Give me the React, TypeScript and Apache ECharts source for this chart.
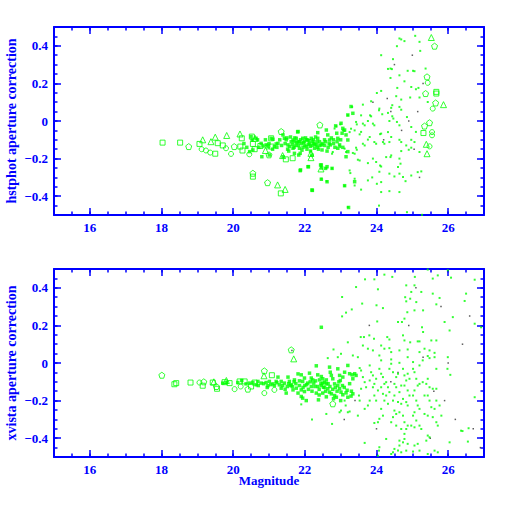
import React, { useEffect, useRef } from "react";
import * as echarts from "echarts";

// ---------- tick labels ----------
const xTickLabels = [16, 18, 20, 22, 24, 26];
const yTickLabels = [-0.4, -0.2, 0, 0.2, 0.4];
const topTitle = "hstphot aperture correction";
const bottomTitle = "xvista aperture correction";
const xTitle = "Magnitude";

// ---------- top panel (hstphot) ----------
const topSquares = [[18.03,-0.115],[18.52,-0.115],[19.06,-0.122],[19.5,-0.174],[19.57,-0.118],[19.71,-0.13],[20.24,-0.092],[20.2,-0.136],[20.26,-0.157],[20.52,-0.083],[20.55,-0.122],[20.6,-0.15],[20.76,-0.133],[21.06,-0.092],[21.07,-0.136],[21.47,-0.204],[21.66,-0.198],[20.55,-0.296],[21.33,-0.385],[25.67,0.155],[25.67,0.146],[25.31,-0.064]];
const topTriangles = [[19.15,-0.1],[19.38,-0.11],[19.5,-0.086],[19.82,-0.077],[20.19,-0.069],[20.61,-0.092],[20.9,-0.157],[21.38,-0.184],[21.24,-0.34],[21.45,-0.364],[22.17,-0.172],[22.17,-0.195],[22.45,-0.255],[25.53,0.444],[25.87,0.087],[25.39,-0.124],[25.41,-0.174]];
const topCircles = [[19.12,-0.15],[19.24,-0.157],[19.36,-0.168],[19.8,-0.145],[19.94,-0.175],[20.45,-0.177],[20.96,-0.136],[25.43,0.203],[25.57,0.066],[25.55,-0.059],[25.55,-0.076],[25.48,-0.135]];
const topPentagons = [[18.76,-0.136],[20.03,-0.136],[21.0,-0.18],[21.34,-0.056],[20.55,-0.278],[20.96,-0.328],[22.42,-0.021],[25.62,0.398],[25.41,0.235],[25.37,0.146],[25.65,0.096],[25.48,-0.009],[25.34,-0.027]];
const topBigDots = [[20.5,-0.083],[20.53,-0.101],[20.64,-0.092],[20.46,-0.163],[20.55,-0.154],[20.78,-0.119],[20.83,-0.133],[20.97,-0.136],[20.92,-0.127],[21.06,-0.092],[21.11,-0.097],[21.01,-0.181],[21.15,-0.136],[21.2,-0.122],[21.25,-0.119],[21.39,-0.074],[21.43,-0.092],[21.39,-0.19],[21.53,-0.127],[21.57,-0.136],[21.67,-0.101],[21.62,-0.11],[21.71,-0.11],[21.67,-0.145],[21.71,-0.172],[21.81,-0.056],[21.76,-0.092],[21.81,-0.11],[21.85,-0.145],[21.87,-0.172],[21.83,-0.181],[21.94,-0.092],[21.99,-0.11],[22.04,-0.136],[22.08,-0.101],[22.13,-0.119],[22.18,-0.092],[22.22,-0.11],[22.27,-0.145],[22.32,-0.127],[22.2,-0.181],[22.36,-0.092],[22.41,-0.11],[22.46,-0.127],[22.48,-0.154],[22.46,-0.234],[22.46,-0.31],[22.47,-0.25],[22.6,-0.048],[22.64,-0.074],[22.69,-0.101],[22.71,-0.127],[22.58,-0.252],[22.62,-0.243],[22.76,-0.252],[22.86,-0.026],[22.89,-0.065],[22.92,-0.092],[23.01,-0.012],[23.06,-0.039],[23.04,-0.065],[23.11,-0.048],[23.15,-0.074],[23.2,-0.101],[22.97,-0.127],[22.92,-0.145],[23.06,-0.14],[23.2,-0.163],[23.15,-0.19],[23.29,0.077],[23.34,0.041],[23.2,0.032],[22.09,-0.243],[21.87,-0.264],[22.62,-0.323],[22.2,-0.367],[23.11,-0.344],[23.39,-0.323],[23.22,-0.46],[21.9,-0.12],[22.0,-0.13],[21.95,-0.14],[22.1,-0.125],[22.15,-0.135],[22.25,-0.12],[21.85,-0.11],[21.75,-0.13],[22.35,-0.14],[22.05,-0.1],[21.88,-0.26],[22.1,-0.243],[22.44,-0.234],[22.21,-0.369],[21.8,-0.058],[22.36,-0.062],[20.8,-0.19],[20.3,-0.12],[20.38,-0.14],[20.68,-0.1],[20.72,-0.14],[21.3,-0.1],[21.48,-0.1],[21.52,-0.15],[22.55,-0.1],[22.55,-0.13],[22.65,-0.14],[22.8,-0.1],[22.8,-0.12],[23.0,-0.1],[21.45,-0.12],[21.5,-0.09],[21.55,-0.16],[21.6,-0.085],[21.65,-0.125],[21.7,-0.14],[21.72,-0.09],[21.78,-0.115],[21.82,-0.13],[21.88,-0.1],[21.92,-0.155],[21.96,-0.115],[22.02,-0.09],[22.06,-0.15],[22.12,-0.105],[22.16,-0.16],[22.2,-0.13],[22.24,-0.1],[22.28,-0.125],[22.3,-0.085],[22.34,-0.11],[22.38,-0.15],[22.42,-0.13],[22.5,-0.12],[22.58,-0.11],[22.62,-0.16],[22.68,-0.12],[22.74,-0.09],[22.84,-0.14],[22.9,-0.11],[20.9,-0.1],[21.0,-0.12],[21.1,-0.15],[21.22,-0.14],[21.35,-0.13]];
const topDots = [[25.08,0.453],[24.64,0.439],[24.69,0.434],[24.78,0.425],[25.2,0.421],[24.57,0.398],[25.22,0.373],[24.13,0.35],[24.46,0.329],[24.39,0.279],[24.43,0.276],[24.32,0.277],[24.87,0.267],[25.02,0.267],[25.06,0.265],[24.64,0.243],[25.37,0.279],[24.39,0.229],[24.78,0.211],[24.58,0.176],[24.97,0.181],[25.1,0.169],[25.17,0.176],[24.13,0.16],[24.01,0.149],[24.55,0.132],[24.94,0.125],[25.2,0.125],[24.69,0.114],[23.85,0.105],[25.43,0.101],[24.44,0.084],[24.41,0.07],[23.62,0.087],[24.08,0.066],[24.07,0.057],[23.32,0.075],[24.64,0.075],[24.69,0.06],[24.32,0.043],[24.44,0.025],[24.47,0.013],[24.85,0.021],[23.2,0.03],[23.57,0.03],[23.82,0.03],[23.85,0.025],[24.16,0.036],[24.36,0.0],[24.57,-0.005],[24.64,-0.023],[24.97,-0.032],[23.62,-0.014],[23.67,-0.023],[23.76,0.0],[23.9,-0.014],[23.94,-0.023],[23.43,-0.005],[23.45,-0.018],[23.39,-0.05],[22.99,-0.018],[22.88,-0.028],[22.83,-0.04],[23.06,-0.05],[23.11,-0.053],[23.29,-0.041],[23.25,-0.059],[23.57,-0.058],[23.53,-0.071],[23.81,-0.085],[23.76,-0.099],[24.1,-0.07],[24.13,-0.067],[24.32,-0.059],[24.41,-0.085],[24.36,-0.112],[24.64,-0.1],[24.69,-0.112],[24.83,-0.13],[24.97,-0.1],[25.06,-0.112],[25.2,-0.165],[24.9,-0.153],[25.1,-0.058],[23.94,-0.112],[23.99,-0.121],[24.18,-0.112],[24.22,-0.121],[23.62,-0.121],[23.67,-0.13],[23.43,-0.142],[23.45,-0.153],[22.97,-0.13],[22.99,-0.139],[23.11,-0.147],[23.15,-0.165],[22.78,-0.165],[22.76,-0.174],[23.34,-0.17],[23.39,-0.174],[23.48,-0.206],[23.53,-0.21],[23.76,-0.224],[23.9,-0.2],[23.99,-0.218],[24.1,-0.237],[24.13,-0.242],[24.27,-0.192],[24.41,-0.183],[24.39,-0.192],[24.69,-0.16],[24.64,-0.2],[24.67,-0.227],[24.6,-0.245],[24.36,-0.28],[24.5,-0.295],[24.64,-0.28],[24.74,-0.298],[24.81,-0.32],[24.97,-0.29],[25.15,-0.272],[25.25,-0.268],[24.97,-0.142],[24.08,-0.27],[23.76,-0.316],[23.88,-0.3],[24.01,-0.334],[24.13,-0.325],[23.57,-0.365],[23.25,-0.263],[23.27,-0.277],[23.39,-0.307],[23.39,-0.343],[23.11,-0.346],[24.13,-0.378],[24.36,-0.373],[24.64,-0.378],[23.2,-0.458],[24.07,-0.45],[24.85,-0.485],[25.27,-0.499],[22.6,-0.25],[22.76,-0.252],[22.46,-0.307],[22.61,-0.32]];
const topBlack = [[24.4,0.05],[24.9,0.0],[25.05,-0.15],[24.2,-0.1],[25.3,0.2],[24.7,-0.05],[23.9,0.1],[25.2,-0.3],[24.5,0.3],[25.0,0.35],[24.3,0.12],[25.15,0.05]];

// ---------- bottom panel (xvista) ----------
const botSquares = [[18.36,-0.113],[18.41,-0.107],[18.81,-0.104],[19.15,-0.121],[19.55,-0.137],[19.43,-0.104],[19.76,-0.102],[19.9,-0.107],[20.18,-0.098],[20.32,-0.098],[20.6,-0.104],[21.08,-0.065],[20.5,-0.125]];
const botCircles = [[19.06,-0.104],[20.04,-0.139],[20.21,-0.125],[20.87,-0.16],[21.15,-0.143]];
const botPentagons = [[18.01,-0.065],[19.18,-0.1],[19.53,-0.125],[20.87,-0.042],[20.41,-0.139],[21.62,0.07],[22.78,-0.217]];
const botTriangles = [[19.46,-0.1],[20.86,-0.068],[19.81,-0.093],[21.69,0.022]];
const botBigDots = [[19.71,-0.107],[19.81,-0.104],[20.13,-0.104],[20.24,-0.093],[20.36,-0.111],[20.46,-0.107],[20.55,-0.104],[20.64,-0.116],[20.69,-0.098],[20.78,-0.107],[20.92,-0.104],[20.97,-0.121],[21.01,-0.098],[21.11,-0.111],[21.2,-0.098],[21.25,-0.075],[21.29,-0.116],[21.34,-0.098],[21.43,-0.107],[21.51,-0.125],[21.48,-0.16],[21.57,-0.098],[21.62,-0.116],[21.71,-0.09],[21.76,-0.134],[21.81,-0.058],[21.9,-0.063],[21.94,-0.098],[21.9,-0.143],[21.9,-0.178],[21.94,-0.187],[22.04,-0.2],[22.08,-0.107],[22.13,-0.054],[22.18,-0.125],[22.22,-0.09],[22.32,-0.015],[22.36,-0.063],[22.41,-0.09],[22.46,-0.072],[22.5,-0.107],[22.36,-0.125],[22.32,-0.16],[22.38,-0.196],[21.81,-0.16],[21.99,-0.152],[21.67,-0.143],[21.34,-0.134],[21.53,-0.075],[21.99,-0.08],[22.25,-0.107],[22.18,-0.08],[22.69,-0.022],[22.71,-0.049],[22.74,-0.066],[22.78,-0.084],[22.5,-0.084],[22.55,-0.102],[22.6,-0.111],[22.46,-0.12],[22.52,-0.129],[22.64,-0.137],[22.69,-0.155],[22.74,-0.164],[22.83,-0.173],[22.88,-0.182],[22.92,-0.031],[22.97,-0.066],[22.99,-0.093],[23.06,-0.075],[23.11,-0.049],[23.2,-0.013],[23.25,-0.057],[23.32,-0.063],[23.34,-0.084],[23.39,-0.057],[23.43,-0.066],[22.83,-0.111],[22.92,-0.12],[22.97,-0.137],[23.01,-0.155],[23.06,-0.169],[23.15,-0.159],[23.2,-0.182],[23.29,-0.176],[23.34,-0.164],[22.46,0.19],[21.6,-0.12],[21.7,-0.1],[22.0,-0.12],[22.6,-0.09],[20.7,-0.12],[20.85,-0.11],[20.95,-0.13],[21.05,-0.115],[21.15,-0.12],[21.22,-0.105],[21.38,-0.12],[21.45,-0.14],[21.55,-0.11],[21.65,-0.125],[21.75,-0.11],[21.85,-0.12],[21.85,-0.095],[21.95,-0.13],[22.05,-0.115],[22.1,-0.14],[22.15,-0.1],[22.2,-0.15],[22.28,-0.125],[22.3,-0.095],[22.4,-0.14],[22.45,-0.11],[22.55,-0.13],[22.58,-0.15],[22.65,-0.11],[22.7,-0.125],[22.78,-0.14],[22.85,-0.13],[22.9,-0.15],[22.95,-0.1],[23.05,-0.12],[23.1,-0.13],[23.18,-0.145],[23.25,-0.11],[23.3,-0.15],[22.4,-0.17],[22.6,-0.18],[22.8,-0.19],[23.0,-0.2],[22.5,-0.16]];
const botDots = [[22.6,-0.271],[22.76,-0.324],[22.97,-0.262],[23.01,-0.253],[23.11,-0.2],[23.14,-0.226],[23.2,-0.262],[23.25,-0.258],[23.53,-0.027],[23.57,-0.04],[23.62,-0.075],[23.67,-0.102],[23.71,-0.129],[23.57,-0.137],[23.51,-0.173],[23.53,-0.2],[23.81,-0.013],[23.85,-0.049],[23.9,-0.066],[23.81,-0.093],[23.94,-0.111],[23.99,-0.084],[23.9,-0.129],[24.04,-0.146],[23.94,-0.173],[23.99,-0.2],[23.81,-0.2],[23.76,-0.226],[23.67,-0.244],[23.48,-0.28],[24.08,-0.031],[24.13,-0.057],[24.18,-0.075],[24.22,-0.111],[24.27,-0.102],[24.32,-0.129],[24.13,-0.129],[24.18,-0.164],[24.27,-0.173],[24.36,-0.155],[24.22,-0.2],[24.32,-0.217],[24.13,-0.244],[24.18,-0.28],[24.08,-0.297],[24.04,-0.315],[23.94,-0.319],[24.36,-0.031],[24.41,-0.004],[24.46,-0.049],[24.55,-0.075],[24.6,-0.057],[24.5,-0.111],[24.55,-0.129],[24.69,-0.12],[24.64,-0.155],[24.5,-0.173],[24.46,-0.2],[24.6,-0.208],[24.69,-0.217],[24.5,-0.253],[24.55,-0.271],[24.46,-0.288],[24.41,-0.315],[24.55,-0.333],[24.74,-0.031],[24.78,-0.066],[24.87,-0.057],[24.83,-0.093],[24.92,-0.084],[24.78,-0.12],[24.87,-0.146],[24.92,-0.173],[24.74,-0.191],[24.83,-0.208],[24.87,-0.226],[24.64,-0.262],[24.74,-0.28],[24.78,-0.315],[24.83,-0.351],[24.87,-0.333],[24.69,-0.351],[24.78,-0.377],[25.02,-0.031],[25.06,-0.049],[25.11,-0.084],[25.15,-0.12],[25.2,-0.111],[25.06,-0.146],[25.02,-0.173],[25.11,-0.2],[25.15,-0.226],[25.2,-0.244],[25.06,-0.262],[25.02,-0.28],[25.11,-0.306],[25.2,-0.333],[25.25,-0.351],[25.06,-0.342],[24.97,-0.333],[25.29,-0.102],[25.39,-0.111],[25.43,-0.084],[25.48,-0.129],[25.57,-0.137],[25.67,-0.137],[25.34,-0.173],[25.43,-0.173],[25.48,-0.2],[25.53,-0.235],[25.62,-0.244],[25.43,-0.28],[25.34,-0.271],[25.57,-0.288],[25.67,-0.315],[25.71,-0.333],[25.81,-0.28],[25.76,-0.226],[25.67,-0.2],[25.43,-0.386],[25.48,-0.395],[25.39,-0.413],[25.15,-0.43],[25.06,-0.439],[24.87,-0.43],[24.78,-0.404],[24.74,-0.422],[24.64,-0.413],[24.64,-0.439],[24.6,-0.466],[24.69,-0.475],[24.5,-0.457],[24.46,-0.475],[24.41,-0.484],[24.08,-0.448],[24.07,-0.466],[24.27,-0.404],[24.83,-0.466],[25.02,-0.471],[25.2,-0.466],[25.43,-0.484],[25.62,-0.466],[25.71,-0.475],[26.04,-0.422],[26.36,-0.36],[26.4,-0.362],[26.55,-0.418],[26.57,-0.347],[23.67,-0.425],[24.04,-0.493],[24.22,0.47],[24.44,0.458],[25.07,0.458],[25.43,0.497],[25.57,0.449],[25.71,0.466],[25.99,0.493],[26.08,0.454],[26.74,0.443],[23.68,0.445],[23.94,0.445],[23.43,0.404],[24.04,0.392],[25.06,0.413],[24.83,0.413],[24.97,0.378],[25.25,0.378],[25.57,0.369],[24.8,0.35],[24.83,0.328],[24.94,0.342],[25.11,0.324],[25.67,0.312],[25.76,0.346],[26.5,0.369],[26.46,0.33],[23.04,0.351],[23.6,0.316],[24.0,0.307],[24.18,0.292],[23.31,0.285],[23.15,0.268],[23.04,0.248],[24.86,0.27],[25.06,0.28],[25.3,0.28],[24.78,0.236],[24.6,0.218],[24.71,0.218],[24.02,0.221],[25.27,0.19],[25.3,0.165],[25.9,0.218],[26.13,0.244],[26.04,0.173],[26.74,0.209],[26.92,0.19],[23.56,0.138],[23.65,0.138],[23.8,0.147],[23.93,0.129],[24.3,0.138],[24.36,0.125],[24.74,0.147],[24.78,0.12],[24.94,0.11],[25.15,0.115],[25.2,0.115],[25.53,0.12],[25.67,0.12],[23.2,0.11],[23.62,0.093],[23.76,0.076],[23.9,0.067],[24.13,0.093],[24.22,0.076],[24.36,0.079],[24.41,0.058],[24.64,0.067],[24.87,0.072],[25.2,0.058],[25.34,0.076],[25.48,0.067],[25.62,0.054],[22.8,0.072],[22.64,0.026],[22.92,0.031],[23.01,0.049],[23.34,0.04],[23.48,0.031],[24.08,0.04],[24.13,0.014],[24.41,0.019],[24.64,0.001],[24.87,0.031],[25.02,0.005],[25.2,-0.013],[25.29,0.014],[25.43,0.037],[25.48,0.026],[25.62,0.031],[25.67,-0.031],[25.99,0.031],[25.98,-0.031],[26.06,-0.063],[26.74,-0.182],[22.2,-0.3],[21.9,-0.22]];
const botBlack = [[24.9,0.2],[25.3,0.03],[24.6,-0.05],[25.6,-0.15],[26.2,-0.3],[26.7,-0.35],[26.4,0.1],[25.9,-0.2],[24.0,-0.35],[23.4,-0.2],[25.1,0.4],[26.6,0.25],[23.8,0.2],[25.5,-0.4],[26.9,-0.45],[24.4,-0.1],[26.0,0.0],[25.8,0.3],[23.1,-0.3],[21.64,0.067]];

const BLUE = "#0000ff";
const GREEN = "#00ff00";
const FONT = "Liberation Serif";
const PENTAGON = "path://M0,-10L9.51,-3.09L5.88,8.09L-5.88,8.09L-9.51,-3.09Z";

const hollow = { color: "rgba(0,0,0,0)", borderColor: GREEN, borderWidth: 1 };

function sc(data: number[][], panel: number, symbol: string, size: number, itemStyle: any) {
  return {
    type: "scatter",
    xAxisIndex: panel * 4,
    yAxisIndex: panel * 4,
    data,
    symbol,
    symbolSize: size,
    itemStyle,
    silent: true,
    emphasis: { disabled: true },
  };
}

const lineStyle = { color: BLUE, width: 2 };
const tickStyle = { color: BLUE, width: 1.5 };
const textBase = { color: BLUE, fontFamily: FONT, fontWeight: "bold" as const };

function xFmt(v: number) {
  return xTickLabels.includes(Math.round(v * 1000) / 1000) ? String(v) : "";
}
function yFmt(v: number) {
  const r = Math.round(v * 1000) / 1000;
  if (!yTickLabels.includes(r)) return "";
  if (r === 0) return "0";
  return r < 0 ? "\u2212" + Math.abs(r) : String(r);
}

function xAxes(gridIndex: number, name?: string) {
  const base = { type: "value", gridIndex, min: 15, max: 27, splitLine: { show: false } };
  return [
    {
      ...base,
      position: "bottom",
      axisLine: { onZero: false, lineStyle },
      axisTick: { inside: true, length: 7, lineStyle: tickStyle },
      axisLabel: { ...textBase, fontSize: 13, margin: 6, formatter: xFmt, showMinLabel: false, showMaxLabel: false },
      name: name || "",
      nameLocation: "middle",
      nameGap: 17,
      nameMoveOverlap: false,
      nameTextStyle: { ...textBase, fontSize: 13 },
    },
    {
      ...base,
      position: "top",
      axisLine: { onZero: false, lineStyle },
      axisTick: { inside: true, length: 7, lineStyle: tickStyle },
      axisLabel: { show: false },
    },
    {
      ...base,
      position: "bottom",
      interval: 0.5,
      axisLine: { show: false, onZero: false },
      axisTick: { inside: true, length: 3.5, lineStyle: tickStyle },
      axisLabel: { show: false },
    },
    {
      ...base,
      position: "top",
      interval: 0.5,
      axisLine: { show: false, onZero: false },
      axisTick: { inside: true, length: 3.5, lineStyle: tickStyle },
      axisLabel: { show: false },
    },
  ];
}

function yAxes(gridIndex: number, name: string) {
  const base = { type: "value", gridIndex, min: -0.5, max: 0.5, splitLine: { show: false } };
  return [
    {
      ...base,
      position: "left",
      axisLine: { onZero: false, lineStyle },
      axisTick: { inside: true, length: 7, lineStyle: tickStyle },
      axisLabel: { ...textBase, fontSize: 13, margin: 6, formatter: yFmt, showMinLabel: false, showMaxLabel: false },
      name,
      nameLocation: "middle",
      nameGap: 36,
      nameMoveOverlap: false,
      nameRotate: 90,
      nameTextStyle: { ...textBase, fontSize: 14 },
    },
    {
      ...base,
      position: "right",
      axisLine: { onZero: false, lineStyle },
      axisTick: { inside: true, length: 7, lineStyle: tickStyle },
      axisLabel: { show: false },
    },
    {
      ...base,
      position: "left",
      interval: 0.05,
      axisLine: { show: false, onZero: false },
      axisTick: { inside: true, length: 3.5, lineStyle: tickStyle },
      axisLabel: { show: false },
    },
    {
      ...base,
      position: "right",
      interval: 0.05,
      axisLine: { show: false, onZero: false },
      axisTick: { inside: true, length: 3.5, lineStyle: tickStyle },
      axisLabel: { show: false },
    },
  ];
}

export default function App() {
  const ref = useRef<HTMLDivElement>(null);
  useEffect(() => {
    if (!ref.current) return;
    const chart = echarts.init(ref.current, null, { renderer: "svg" });
    const dot = { color: GREEN };
    const blk = { color: "#333333" };
    chart.setOption({
      animation: false,
      backgroundColor: "#ffffff",
      grid: [
        { left: 54, top: 27, width: 430, height: 188, outerBoundsMode: "none", containLabel: false },
        { left: 54, top: 269, width: 430, height: 188, outerBoundsMode: "none", containLabel: false },
      ],
      xAxis: [...xAxes(0), ...xAxes(1, xTitle)],
      yAxis: [...yAxes(0, topTitle), ...yAxes(1, bottomTitle)],
      series: [
        sc(topBlack, 0, "rect", 1.5, blk),
        sc(topDots, 0, "rect", 2, dot),
        sc(topBigDots, 0, "rect", 3.5, dot),
        sc(topSquares, 0, "rect", 5, hollow),
        sc(topTriangles, 0, "triangle", 6, hollow),
        sc(topCircles, 0, "circle", 5, hollow),
        sc(topPentagons, 0, PENTAGON, 6, hollow),
        sc(botBlack, 1, "rect", 1.5, blk),
        sc(botDots, 1, "rect", 2, dot),
        sc(botBigDots, 1, "rect", 3.5, dot),
        sc(botSquares, 1, "rect", 5, hollow),
        sc(botTriangles, 1, "triangle", 6, hollow),
        sc(botCircles, 1, "circle", 5, hollow),
        sc(botPentagons, 1, PENTAGON, 6, hollow),
      ],
    });
    return () => chart.dispose();
  }, []);
  return (
    <div
      ref={ref}
      style={{ position: "absolute", left: 0, top: 0, width: 512, height: 512, background: "#fff" }}
    />
  );
}
